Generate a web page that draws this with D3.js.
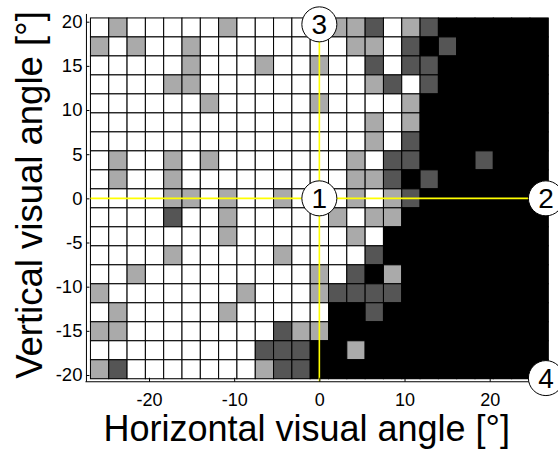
<!DOCTYPE html>
<html>
<head>
<meta charset="utf-8">
<script src="https://cdn.jsdelivr.net/npm/d3@7"></script>
<style>
html,body{margin:0;padding:0;background:#fff;}
svg{display:block;font-family:"Liberation Sans",Arial,sans-serif;}
</style>
</head>
<body>
<svg id="chart" width="558" height="453"></svg>
<script>
// ---- data ----
const cellSize = 2.15;                 // degrees per cell
const colIndex = d3.range(-12, 13);    // 25 columns, centred on 0
const rowIndex = d3.range(9, -10, -1); // 19 rows, top to bottom
// levels: 0 white, 1 light gray, 2 dark gray, 3 black
const cellLevels = [
  [0,1,0,0,0,0,0,1,0,0,0,0,0,1,1,2,0,1,2,3,3,3,3,3,3],
  [1,0,1,0,0,1,0,0,0,0,0,0,0,0,1,1,0,2,3,2,3,3,3,3,3],
  [0,0,0,0,0,1,0,0,0,1,0,0,1,0,0,2,0,2,2,3,3,3,3,3,3],
  [0,0,0,0,1,1,0,0,0,0,0,0,0,0,0,1,2,0,2,3,3,3,3,3,3],
  [0,0,0,0,0,0,1,0,0,0,0,0,1,0,0,0,0,1,3,3,3,3,3,3,3],
  [0,0,0,0,0,0,0,0,0,0,0,0,0,0,0,1,0,1,3,3,3,3,3,3,3],
  [0,0,0,0,0,0,0,0,0,0,0,0,0,0,0,1,0,2,3,3,3,3,3,3,3],
  [0,1,0,0,1,0,1,0,0,0,0,0,0,0,1,0,2,2,3,3,3,2,3,3,3],
  [0,1,0,0,1,0,0,0,0,0,0,0,0,0,1,1,2,3,2,3,3,3,3,3,3],
  [0,0,0,0,1,1,0,1,0,0,1,0,0,0,1,0,1,2,3,3,3,3,3,3,3],
  [0,0,0,0,2,0,0,1,0,0,0,0,0,1,0,1,1,3,3,3,3,3,3,3,3],
  [0,0,0,0,0,0,0,1,0,0,0,0,0,0,1,0,3,3,3,3,3,3,3,3,3],
  [0,0,0,0,1,0,0,0,0,0,1,0,0,0,0,2,3,3,3,3,3,3,3,3,3],
  [0,0,1,0,0,0,0,0,0,0,0,0,1,0,2,3,1,3,3,3,3,3,3,3,3],
  [1,0,0,0,0,0,0,0,1,0,0,0,1,2,2,2,2,3,3,3,3,3,3,3,3],
  [0,1,0,0,0,0,0,1,0,0,0,0,0,3,3,2,3,3,3,3,3,3,3,3,3],
  [1,1,0,0,0,0,0,0,0,0,2,1,1,3,3,3,3,3,3,3,3,3,3,3,3],
  [0,0,0,0,0,0,0,0,0,2,2,2,3,3,1,3,3,3,3,3,3,3,3,3,3],
  [1,2,0,0,0,0,0,0,0,1,2,2,3,3,3,3,3,3,3,3,3,3,3,3,3]
];
const levelColors = ["#ffffff", "#aaaaaa", "#555555", "#000000"];
const xTicks = [-20, -10, 0, 10, 20];
const yTicks = [20, 15, 10, 5, 0, -5, -10, -15, -20];
const markers = [
  {label: "1", x: 0, y: 0},
  {label: "2", x: 26.6, y: 0},
  {label: "3", x: 0, y: 19.7},
  {label: "4", x: 26.6, y: -20.35}
];
const xTitle = "Horizontal visual angle [°]";
const yTitle = "Vertical visual angle [°]";

// ---- scales ----
const svg = d3.select("#chart");
const x = d3.scaleLinear().domain([-20, 20]).range([149, 489.7]);
const y = d3.scaleLinear().domain([-20, 20]).range([375, 21.7]);
const color = d3.scaleOrdinal().domain([0,1,2,3]).range(levelColors);
const fmt = d => String(d);

const half = cellSize / 2;
const gridLeft = x(colIndex[0] * cellSize - half);
const gridRight = x(colIndex[colIndex.length-1] * cellSize + half);
const gridTop = y(rowIndex[0] * cellSize + half);
const gridBottom = y(rowIndex[rowIndex.length-1] * cellSize - half);
const yAxisX = gridLeft - 4;
const xAxisY = gridBottom + 3;

// ---- cells ----
svg.append("rect")
  .attr("x", gridLeft).attr("y", gridTop)
  .attr("width", gridRight - gridLeft).attr("height", gridBottom - gridTop)
  .attr("fill", "#000");
const cells = [];
cellLevels.forEach((row, ri) => row.forEach((v, ci) => {
  cells.push({cx: colIndex[ci] * cellSize, cy: rowIndex[ri] * cellSize, v});
}));
svg.append("g").selectAll("rect").data(cells).join("rect")
  .attr("x", d => x(d.cx - half))
  .attr("y", d => y(d.cy + half))
  .attr("width", d => x(d.cx + half) - x(d.cx - half))
  .attr("height", d => y(d.cy - half) - y(d.cy + half))
  .attr("fill", d => color(d.v))
  .attr("stroke", "#000")
  .attr("stroke-width", 1);

// ---- yellow cross lines ----
const m1 = markers[0], m2 = markers[1], m3 = markers[2];
svg.append("line")
  .attr("x1", gridLeft).attr("x2", x(m2.x))
  .attr("y1", y(m1.y)).attr("y2", y(m1.y))
  .attr("stroke", "#ffff00").attr("stroke-width", 1.6);
svg.append("line")
  .attr("x1", x(m1.x)).attr("x2", x(m1.x))
  .attr("y1", y(m3.y)).attr("y2", xAxisY)
  .attr("stroke", "#ffff00").attr("stroke-width", 1.6);

// ---- axes ----
const yAxis = d3.axisLeft(y).tickValues(yTicks).tickFormat(fmt).tickSizeInner(-3).tickSizeOuter(0).tickPadding(4);
const gy = svg.append("g").attr("transform", `translate(${yAxisX},0)`).call(yAxis);
gy.select(".domain").remove();
gy.selectAll("text").attr("font-size", 18.5).attr("fill", "#000").attr("font-family", "Liberation Sans, Arial, sans-serif");
gy.selectAll("line").attr("stroke", "#000");

const xAxis = d3.axisBottom(x).tickValues(xTicks).tickFormat(fmt).tickSizeInner(-4).tickSizeOuter(0).tickPadding(11);
const gx = svg.append("g").attr("transform", `translate(0,${xAxisY})`).call(xAxis);
gx.select(".domain").remove();
gx.selectAll("text").attr("font-size", 18).attr("fill", "#000").attr("font-family", "Liberation Sans, Arial, sans-serif");
gx.selectAll("line").attr("stroke", "#000");

svg.append("line").attr("x1", yAxisX).attr("x2", yAxisX)
  .attr("y1", gridTop - 4).attr("y2", xAxisY).attr("stroke", "#000").attr("stroke-width", 1);
svg.append("line").attr("x1", yAxisX - 1).attr("x2", gridRight)
  .attr("y1", xAxisY).attr("y2", xAxisY).attr("stroke", "#000").attr("stroke-width", 1);

// ---- markers ----
const mg = svg.append("g").selectAll("g").data(markers).join("g")
  .attr("transform", d => `translate(${x(d.x)},${y(d.y)})`);
mg.append("circle").attr("r", 17.5).attr("fill", "#fff").attr("stroke", "#000").attr("stroke-width", 1);
mg.append("text").text(d => d.label)
  .attr("text-anchor", "middle").attr("dy", "0.36em")
  .attr("font-size", 28).attr("fill", "#000");

// ---- titles ----
svg.append("text").text(xTitle)
  .attr("x", 306.7).attr("y", 441)
  .attr("text-anchor", "middle").attr("font-size", 36).attr("fill", "#000");
svg.append("text").text(yTitle)
  .attr("transform", `translate(41.5,195) rotate(-90)`)
  .attr("text-anchor", "middle").attr("font-size", 36.5).attr("fill", "#000");
</script>
</body>
</html>
